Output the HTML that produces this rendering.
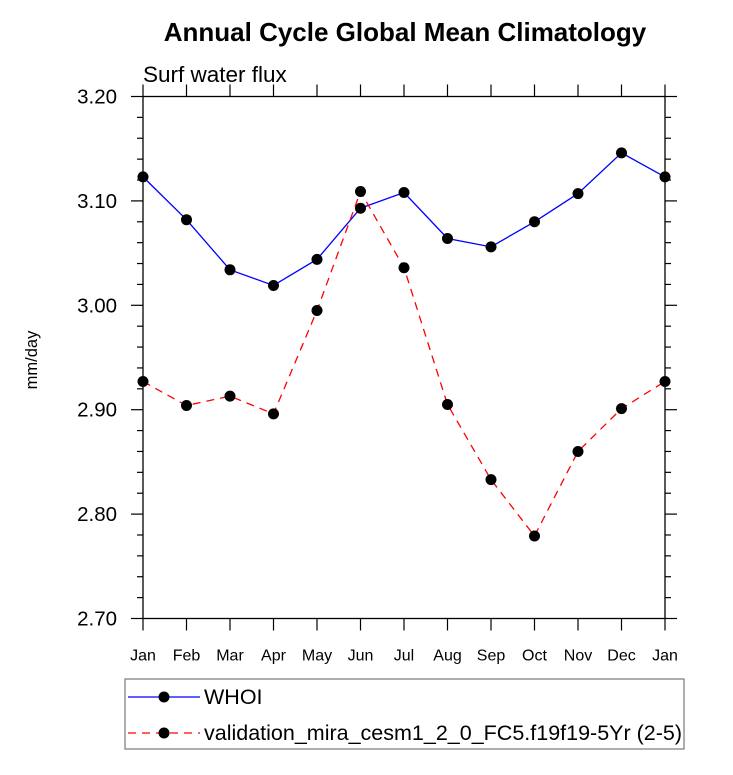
<!DOCTYPE html>
<html><head><meta charset="utf-8"><style>
body{margin:0;background:#fff}
svg text{font-family:"Liberation Sans",Arial,sans-serif}
</style></head><body>
<svg id="chart" width="733" height="770" xmlns="http://www.w3.org/2000/svg">
<text x="405" y="41" text-anchor="middle" font-size="26" font-weight="bold">Annual Cycle Global Mean Climatology</text>
<text x="143" y="82" font-size="22.5">Surf water flux</text>
<text transform="translate(37,360) rotate(-90)" text-anchor="middle" font-size="16.5">mm/day</text>
<g id="axes"></g>
<g id="series"></g>
<rect x="125" y="679" width="559" height="70" fill="none" stroke="#777" stroke-width="1.2"/>
<g>
<line x1="128" y1="697" x2="200" y2="697" stroke="#0000ff" stroke-width="1.3"/>
<circle cx="164" cy="697" r="5.5" fill="#000"/>
<text x="204" y="704" font-size="21.5">WHOI</text></g>
<g>
<line x1="128" y1="733" x2="200" y2="733" stroke="#ff0000" stroke-width="1.3" stroke-dasharray="8,6"/>
<circle cx="164" cy="733" r="5.5" fill="#000"/>
<text x="204" y="740" font-size="21.5">validation_mira_cesm1_2_0_FC5.f19f19-5Yr (2-5)</text></g>
</svg>
<script>
const months=["Jan","Feb","Mar","Apr","May","Jun","Jul","Aug","Sep","Oct","Nov","Dec","Jan"];
const whoi=[3.123,3.082,3.034,3.019,3.044,3.093,3.108,3.064,3.056,3.080,3.107,3.146,3.123];
const model=[2.927,2.904,2.913,2.896,2.995,3.109,3.036,2.905,2.833,2.779,2.860,2.901,2.927];
const yTicks=[2.70,2.80,2.90,3.00,3.10,3.20];
const yTickLabels=["2.70","2.80","2.90","3.00","3.10","3.20"];
const X0=143,X1=665,Y0=96.5,Y1=618.5,YMIN=2.7,YMAX=3.2;
const NS="http://www.w3.org/2000/svg";
const xs=i=>X0+(X1-X0)*i/(months.length-1);
const ys=v=>Y1-(v-YMIN)/(YMAX-YMIN)*(Y1-Y0);
function mk(t,a,p){const e=document.createElementNS(NS,t);for(const k in a)e.setAttribute(k,a[k]);p.appendChild(e);return e;}
const ax=document.getElementById('axes');
const frame=mk('rect',{x:X0,y:Y0,width:X1-X0,height:Y1-Y0,fill:'none',stroke:'#000','stroke-width':1.3},ax);


months.forEach((m,i)=>{const x=xs(i);
mk('line',{x1:x,y1:Y1,x2:x,y2:Y1+12,stroke:'#000','stroke-width':1.2},ax);
mk('line',{x1:x,y1:Y0,x2:x,y2:Y0-12,stroke:'#000','stroke-width':1.2},ax);
const t=mk('text',{x:x,y:Y1+42,'text-anchor':'middle','font-size':16},ax);t.textContent=m;

});
for(let v=YMIN;v<=YMAX+1e-9;v+=0.02){const y=ys(v);const major=Math.abs(Math.round(v*10)-v*10)<1e-6;const L=major?12:6;
mk('line',{x1:X0,y1:y,x2:X0-L,y2:y,stroke:'#000','stroke-width':1.2},ax);
mk('line',{x1:X1,y1:y,x2:X1+L,y2:y,stroke:'#000','stroke-width':1.2},ax);}
yTicks.forEach((v,i)=>{const t=mk('text',{x:X0-26,y:ys(v)+7,'text-anchor':'end','font-size':20.5},ax);t.textContent=yTickLabels[i];

});
const sg=document.getElementById('series');
function draw(d,color,dash,name){const g=mk('g',{},sg);


const a={points:d.map((v,i)=>xs(i)+','+ys(v)).join(' '),fill:'none',stroke:color,'stroke-width':1.3};if(dash)a['stroke-dasharray']=dash;mk('polyline',a,g);
d.forEach((v,i)=>{const c=mk('circle',{cx:xs(i),cy:ys(v),r:5.5,fill:'#000'},g);

});}
draw(whoi,'#0000ff',null,'whoi-series');
draw(model,'#ff0000','8,6','model-series');
</script>
</body></html>
